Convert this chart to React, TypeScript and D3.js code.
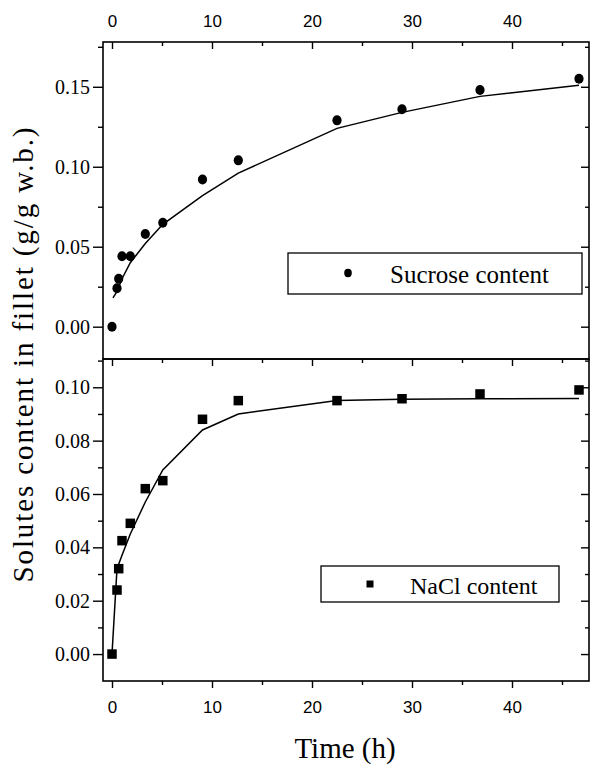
import React, { useRef, useEffect } from "react";
import * as d3 from "d3";

// sampling times (h), shared by both solutes
const times = [0, 0.5, 0.67, 1, 1.83, 3.33, 5.08, 9.05, 12.63, 22.5, 29, 36.8, 46.7];
// measured contents (g/g w.b.)
const sucrose = [0.0, 0.024, 0.03, 0.044, 0.044, 0.058, 0.065, 0.092, 0.104, 0.129, 0.136, 0.148, 0.155];
const nacl = [0.0, 0.024, 0.032, 0.0425, 0.049, 0.062, 0.065, 0.088, 0.095, 0.095, 0.0957, 0.0975, 0.099];
// model curves
const sucroseFitTimes = [0.1, 0.5, 1, 1.83, 3.33, 5.08, 9.05, 12.63, 22.5, 29, 36.8, 46.7];
const sucroseFit = [0.018, 0.022, 0.03, 0.04, 0.052, 0.064, 0.082, 0.096, 0.124, 0.134, 0.144, 0.151];
const naclFitTimes = [0, 0.5, 1, 1.83, 3.33, 5.08, 9.05, 12.63, 22.5, 29, 36.8, 46.7];
const naclFit = [0.0, 0.032, 0.037, 0.045, 0.057, 0.069, 0.084, 0.09, 0.095, 0.0955, 0.0957, 0.0958];

const xTicks = [0, 10, 20, 30, 40];
const xMinor = [5, 15, 25, 35, 45];
const topTicks = [0, 0.05, 0.1, 0.15];
const topMinor = [0.025, 0.075, 0.125, 0.175];
const botTicks = [0, 0.02, 0.04, 0.06, 0.08, 0.1];
const botMinor = [0.01, 0.03, 0.05, 0.07, 0.09, 0.11];

const W = 591, H = 767;
const L = 103, R = 589, T = 42, MID = 359, B = 681;
const SERIF = "Liberation Serif, Times New Roman, serif";
const SANS = "Liberation Sans, Arial, sans-serif";

export default function App() {
    const svgRef = useRef(null);

    useEffect(() => {
        const svg = d3.select(svgRef.current);
        svg.selectAll("*").remove();

        const x = d3.scaleLinear().domain([-0.9, 47.7]).range([L, R]);
        const yTop = d3.scaleLinear().domain([-0.0202, 0.178]).range([MID, T]);
        const yBot = d3.scaleLinear().domain([-0.0101, 0.1106]).range([B, MID]);

        const styleAxis = g => {
            g.select(".domain").remove();
            g.selectAll("line").attr("stroke", "#000").attr("stroke-width", 1.4);
        };

        // left axes (outward ticks with labels), right side inward ticks
        const leftAxis = (y, major, minor) => {
            svg.append("g").attr("transform", `translate(${L},0)`)
                .call(d3.axisLeft(y).tickValues(major).tickFormat(d3.format(".2f")).tickSize(10).tickPadding(3))
                .call(styleAxis)
                .call(g => g.selectAll("text").attr("font-family", SERIF).attr("font-size", 20).attr("fill", "#000"));
            svg.append("g").attr("transform", `translate(${L},0)`)
                .call(d3.axisLeft(y).tickValues(minor).tickFormat(() => "").tickSize(5))
                .call(styleAxis);
            svg.append("g").attr("transform", `translate(${R},0)`)
                .call(d3.axisRight(y).tickValues(major).tickFormat(() => "").tickSize(-8))
                .call(styleAxis);
            svg.append("g").attr("transform", `translate(${R},0)`)
                .call(d3.axisRight(y).tickValues(minor).tickFormat(() => "").tickSize(-4))
                .call(styleAxis);
        };
        leftAxis(yTop, topTicks, topMinor);
        leftAxis(yBot, botTicks, botMinor);

        const xAxisText = g => g.selectAll("text").attr("font-family", SANS).attr("font-size", 17).attr("fill", "#000");

        // top of upper panel: inward ticks, labels above
        svg.append("g").attr("transform", `translate(0,${T})`)
            .call(d3.axisTop(x).tickValues(xTicks).tickSize(-7).tickPadding(15))
            .call(styleAxis).call(xAxisText);
        svg.append("g").attr("transform", `translate(0,${T})`)
            .call(d3.axisTop(x).tickValues(xMinor).tickFormat(() => "").tickSize(-4))
            .call(styleAxis);
        // top of lower panel: inward ticks only
        svg.append("g").attr("transform", `translate(0,${MID})`)
            .call(d3.axisTop(x).tickValues(xTicks).tickFormat(() => "").tickSize(-7))
            .call(styleAxis);
        svg.append("g").attr("transform", `translate(0,${MID})`)
            .call(d3.axisTop(x).tickValues(xMinor).tickFormat(() => "").tickSize(-4))
            .call(styleAxis);
        // bottom
        svg.append("g").attr("transform", `translate(0,${B})`)
            .call(d3.axisBottom(x).tickValues(xTicks).tickSize(7).tickPadding(13))
            .call(styleAxis).call(xAxisText);
        svg.append("g").attr("transform", `translate(0,${B})`)
            .call(d3.axisBottom(x).tickValues(xMinor).tickFormat(() => "").tickSize(4))
            .call(styleAxis);

        // panel frames
        svg.append("rect").attr("x", L).attr("y", T).attr("width", R - L).attr("height", MID - T)
            .attr("fill", "none").attr("stroke", "#000").attr("stroke-width", 1.6);
        svg.append("rect").attr("x", L).attr("y", MID).attr("width", R - L).attr("height", B - MID)
            .attr("fill", "none").attr("stroke", "#000").attr("stroke-width", 1.6);

        // fitted curves
        const lineTop = d3.line().x((d, i) => x(sucroseFitTimes[i])).y(d => yTop(d));
        const lineBot = d3.line().x((d, i) => x(naclFitTimes[i])).y(d => yBot(d));
        svg.append("path").attr("d", lineTop(sucroseFit)).attr("fill", "none").attr("stroke", "#000").attr("stroke-width", 1.5);
        svg.append("path").attr("d", lineBot(naclFit)).attr("fill", "none").attr("stroke", "#000").attr("stroke-width", 1.5);

        // measured points
        svg.selectAll(".suc").data(sucrose).join("ellipse")
            .attr("class", "suc")
            .attr("cx", (d, i) => x(times[i])).attr("cy", d => yTop(d))
            .attr("rx", 4.6).attr("ry", 5).attr("fill", "#000");
        const s = 9.5;
        svg.selectAll(".nacl").data(nacl).join("rect")
            .attr("class", "nacl")
            .attr("x", (d, i) => x(times[i]) - s / 2).attr("y", d => yBot(d) - s / 2)
            .attr("width", s).attr("height", s).attr("fill", "#000");

        // legends
        svg.append("rect").attr("x", 288).attr("y", 253).attr("width", 294).attr("height", 41)
            .attr("fill", "#fff").attr("stroke", "#000").attr("stroke-width", 1.3);
        svg.append("ellipse").attr("cx", 348).attr("cy", 273).attr("rx", 3.8).attr("ry", 4.2).attr("fill", "#000");
        svg.append("text").attr("x", 390).attr("y", 283).attr("font-family", SERIF).attr("font-size", 25)
            .text("Sucrose content");

        svg.append("rect").attr("x", 321).attr("y", 566).attr("width", 238).attr("height", 36)
            .attr("fill", "#fff").attr("stroke", "#000").attr("stroke-width", 1.3);
        svg.append("rect").attr("x", 366.5).attr("y", 580.5).attr("width", 7).attr("height", 7).attr("fill", "#000");
        svg.append("text").attr("x", 410).attr("y", 594).attr("font-family", SERIF).attr("font-size", 24)
            .text("NaCl content");

        // axis titles
        svg.append("text").attr("x", 345).attr("y", 758).attr("text-anchor", "middle")
            .attr("font-family", SERIF).attr("font-size", 29).text("Time (h)");
        svg.append("text").attr("transform", "translate(33,355) rotate(-90)").attr("text-anchor", "middle")
            .attr("font-family", SERIF).attr("font-size", 29)
            .attr("textLength", 455).attr("lengthAdjust", "spacing")
            .text("Solutes content in fillet (g/g w.b.)");
    }, []);

    return (
        <svg ref={svgRef} width={W} height={H}
            style={{ position: "absolute", left: 0, top: 0, background: "#fff" }} />
    );
}
